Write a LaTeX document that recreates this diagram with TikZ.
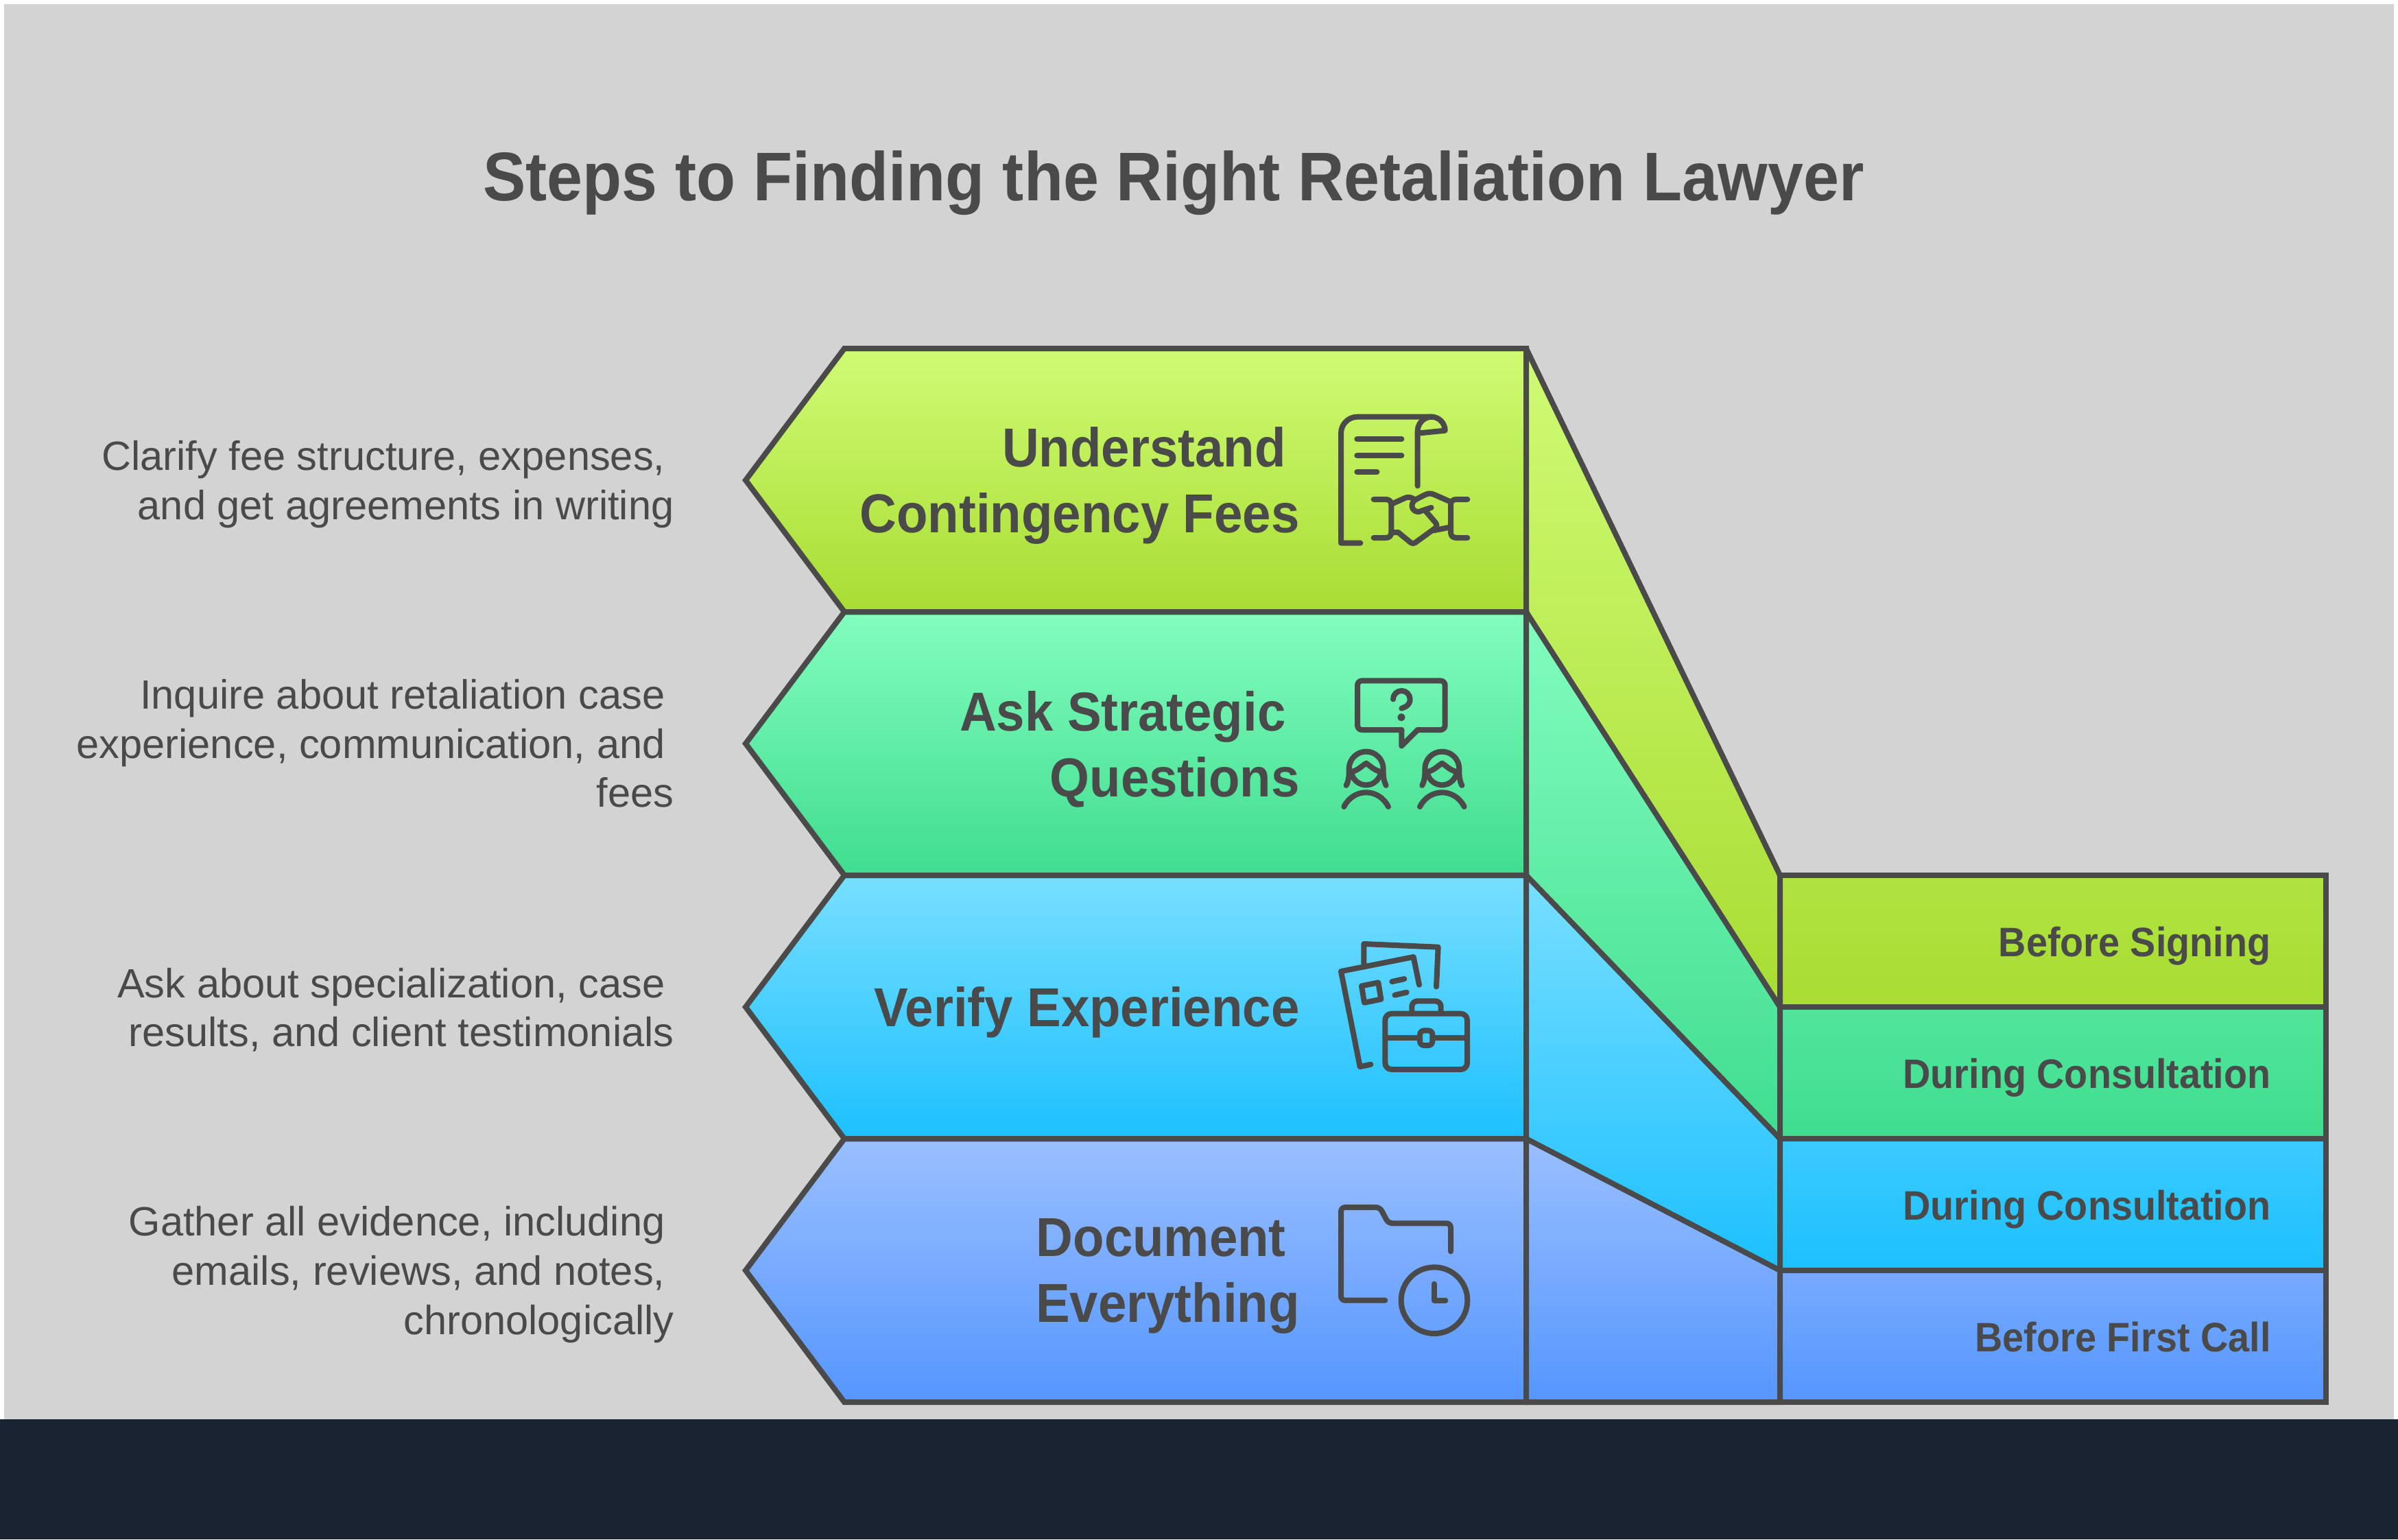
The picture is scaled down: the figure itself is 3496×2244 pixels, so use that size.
\documentclass[tikz,border=0pt]{standalone}
\usepackage{fontspec}
\setmainfont[BoldFeatures={FakeStretch=0.93}]{Liberation Sans}
\definecolor{ink}{HTML}{4A4A4A}
\definecolor{bggray}{HTML}{D3D3D3}
\definecolor{band}{HTML}{1A2332}
\definecolor{atop}{HTML}{CFFB74}\definecolor{abot}{HTML}{A8DD33}
\definecolor{btop}{HTML}{82FDBE}\definecolor{bbot}{HTML}{40DD8F}
\definecolor{ctop}{HTML}{78DFFF}\definecolor{cbot}{HTML}{1CC0FF}
\definecolor{dtop}{HTML}{9ABFFF}\definecolor{dbot}{HTML}{5596FF}
\newcommand{\titlefont}{\fontsize{50.2}{58}\selectfont\bfseries}
\newcommand{\rowfont}{\fontsize{40}{48}\selectfont\bfseries}
\newcommand{\boxfont}{\fontsize{30}{36}\selectfont\bfseries}
\newcommand{\descfont}{\fontsize{29.8}{35.8}\selectfont}
\tikzset{
  outline/.style={draw=ink,line width=4pt,line join=miter,miter limit=10},
  icon/.style={draw=ink,line width=4pt,line cap=round,line join=round},
  desc/.style={text=ink,align=right,anchor=east,inner sep=0pt,font=\descfont},
  rowlabel/.style={text=ink,align=right,anchor=east,inner sep=0pt,font=\rowfont},
  boxlabel/.style={text=ink,anchor=base east,inner sep=0pt,font=\boxfont},
  titletext/.style={text=ink,inner sep=0pt,font=\titlefont},
}
\begin{document}
\begin{tikzpicture}[x=0.5pt,y=-0.5pt]
\useasboundingbox (0,0) rectangle (3496,2244);
\fill[white] (0,0) rectangle (3496,2244);
\fill[bggray] (6,6) rectangle (3490,2069);
\fill[band] (0,2069) rectangle (3496,2244);
\node[titletext] (title) at (1711,267) {Steps to Finding the Right Retaliation Lawyer};
% ribbons with boxes
\fill[top color=atop,bottom color=abot] (2225,508)--(2595,1276)--(3391,1276)--(3391,1468)--(2595,1468)--(2225,892)--cycle;
\fill[top color=btop,bottom color=bbot] (2225,892)--(2595,1468)--(3391,1468)--(3391,1660)--(2595,1660)--(2225,1276)--cycle;
\fill[top color=ctop,bottom color=cbot] (2225,1276)--(2595,1660)--(3391,1660)--(3391,1852)--(2595,1852)--(2225,1660)--cycle;
\fill[top color=dtop,bottom color=dbot] (2225,1660)--(2595,1852)--(3391,1852)--(3391,2044)--(2225,2044)--cycle;
% pentagons
\fill[top color=atop,bottom color=abot] (1087,700)--(1231,508)--(2225,508)--(2225,892)--(1231,892)--cycle;
\fill[top color=btop,bottom color=bbot] (1087,1084)--(1231,892)--(2225,892)--(2225,1276)--(1231,1276)--cycle;
\fill[top color=ctop,bottom color=cbot] (1087,1468)--(1231,1276)--(2225,1276)--(2225,1660)--(1231,1660)--cycle;
\fill[top color=dtop,bottom color=dbot] (1087,1852)--(1231,1660)--(2225,1660)--(2225,2044)--(1231,2044)--cycle;
% outlines
\draw[outline] (1087,700)--(1231,508)--(2225,508)--(2225,892)--(1231,892)--cycle;
\draw[outline] (1087,1084)--(1231,892)--(2225,892)--(2225,1276)--(1231,1276)--cycle;
\draw[outline] (1087,1468)--(1231,1276)--(2225,1276)--(2225,1660)--(1231,1660)--cycle;
\draw[outline] (1087,1852)--(1231,1660)--(2225,1660)--(2225,2044)--(1231,2044)--cycle;
\draw[outline] (2225,508)--(2595,1276)--(2595,2044)--(2225,2044);
\draw[outline] (2225,892)--(2595,1468);
\draw[outline] (2225,1276)--(2595,1660);
\draw[outline] (2225,1660)--(2595,1852);
\draw[outline] (2595,1276) rectangle (3391,2044);
\draw[outline] (2595,1468)--(3391,1468);
\draw[outline] (2595,1660)--(3391,1660);
\draw[outline] (2595,1852)--(3391,1852);
% row labels
\node[rowlabel] (r1) at (1895,708) {Understand\kern10pt\\Contingency Fees};
\node[rowlabel] (r2) at (1895,1092) {Ask Strategic\kern10pt\\Questions};
\node[rowlabel] (r3) at (1895,1476) {Verify Experience};
\node[rowlabel] (r4) at (1895,1860) {Document\kern10pt\\Everything};
% box labels
\node[boxlabel] (b1) at (3311,1394) {Before Signing};
\node[boxlabel] (b2) at (3311,1586) {During Consultation};
\node[boxlabel] (b3) at (3311,1778) {During Consultation};
\node[boxlabel] (b4) at (3311,1970) {Before First Call};
% descriptions
\node[desc] (d1) at (983,706) {Clarify fee structure, expenses,\kern6.5pt\\and get agreements in writing};
\node[desc] (d2) at (983,1084) {Inquire about retaliation case\kern6.5pt\\experience, communication, and\kern6.5pt\\fees};
\node[desc] (d3) at (983,1472) {Ask about specialization, case\kern6.5pt\\results, and client testimonials};
\node[desc] (d4) at (983,1858) {Gather all evidence, including\kern6.5pt\\emails, reviews, and notes,\kern6.5pt\\chronologically};
% icon 1
\begin{scope}[shift={(1900,560)},scale=1/3,icon]
\draw (250,695)--(165,695)--(165,215) arc[start angle=180,end angle=270,radius=72] --(560,143) arc[start angle=270,end angle=360,radius=60] --(500,215);
\draw (500,445)--(500,205) arc[start angle=180,end angle=280,radius=62];
\draw (235,240)--(430,240) (235,312)--(430,312) (235,384)--(322,384);
\draw (308,504)--(360,504) .. controls (376,504) and (385,512) .. (385,528)--(385,648) .. controls (385,664) and (376,672) .. (360,672)--(308,672);
\draw (718,504)--(670,504) .. controls (654,504) and (645,512) .. (645,528)--(645,648) .. controls (645,664) and (654,672) .. (670,672)--(718,672);
\draw (385,525)--(445,498) .. controls (458,492) and (470,495) .. (480,500);
\draw (645,515)--(570,482) .. controls (555,476) and (545,478) .. (530,485)--(495,503) .. controls (470,515) and (470,545) .. (490,555) .. controls (500,560) and (510,558) .. (520,553)--(560,540);
\draw (535,555)--(578,605) .. controls (590,620) and (582,625) .. (570,635)--(490,693) .. controls (482,698) and (478,698) .. (470,693)--(415,648)--(385,648);
\draw (570,640)--(645,625);
\end{scope}
% icon 2
\begin{scope}[shift={(1920,960)},scale=1/3,icon]
\draw[rounded corners=3.3pt] (370,312)--(177,312)--(177,97)--(560,97)--(560,312)--(440,312);
\draw (370,312)--(370,382)--(440,312);
\draw (333,178) arc[start angle=180,end angle=420,radius=37] -- (370,218);
\fill[ink,draw=none] (369,257) circle[radius=17];
\foreach \dx in {0,332}{
 \begin{scope}[shift={(\dx,0)}]
 \draw (128,555) .. controls (140,530) and (140,515) .. (140,482) arc[start angle=180,end angle=360,radius=75] .. controls (290,515) and (290,530) .. (302,555);
 \draw (150,495) .. controls (180,490) and (195,470) .. (215,458) .. controls (235,470) and (250,490) .. (280,495);
 \draw (152,505) arc[start angle=165,end angle=15,radius=65];
 \draw (118,648) .. controls (160,565) and (270,565) .. (312,648);
 \end{scope}}
\end{scope}
% icon 3
\begin{scope}[shift={(1920,1350)},scale=1/3,icon]
\draw (205,165)--(205,78)--(530,92)--(522,265);
\draw (235,605)--(188,615)--(105,198)--(422,135)--(447,257);
\draw (195,262)--(268,247)--(280,320)--(207,335)--cycle;
\draw (328,243)--(382,231) (340,302)--(392,290);
\draw[rounded corners=4.7pt] (298,383) rectangle (657,627);
\draw[rounded corners=4pt] (415,383)--(415,328)--(542,328)--(542,383);
\draw (298,490)--(450,490) (505,490)--(657,490);
\draw[rounded corners=3pt] (450,457) rectangle (505,522);
\end{scope}
% icon 4
\begin{scope}[shift={(1920,1730)},scale=1/3,icon]
\draw[rounded corners=3pt] (298,497)--(105,497)--(105,90)--(275,90)--(312,160)--(585,160)--(585,283);
\draw (513,497) circle[radius=145];
\draw (513,425)--(513,497)--(562,497);
\end{scope}
\end{tikzpicture}
\end{document}
